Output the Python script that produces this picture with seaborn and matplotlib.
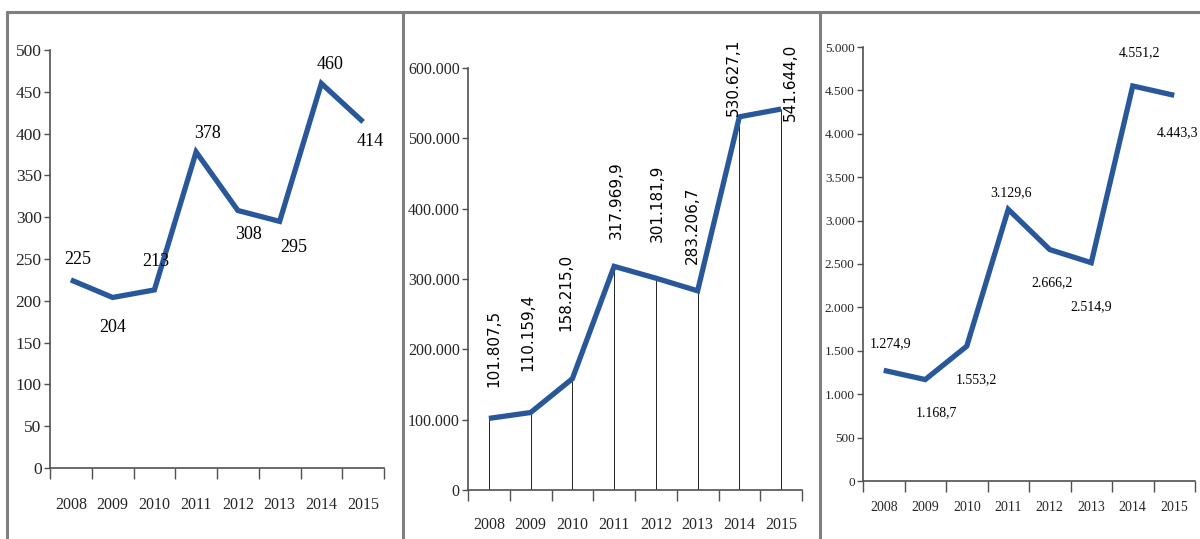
import matplotlib
matplotlib.use("Agg")
import matplotlib.pyplot as plt
from matplotlib.lines import Line2D
import seaborn as sns
import pandas as pd
import numpy as np

years = ["2008", "2009", "2010", "2011", "2012", "2013", "2014", "2015"]

p1_values = [225, 204, 213, 378, 308, 295, 460, 414]
p1_labels = ["225", "204", "213", "378", "308", "295", "460", "414"]
p1_ticks = [0, 50, 100, 150, 200, 250, 300, 350, 400, 450, 500]
p1_ticklabels = ["0", "50", "100", "150", "200", "250", "300", "350", "400", "450", "500"]

p2_values = [101807.5, 110159.4, 158215.0, 317969.9, 301181.9, 283206.7, 530627.1, 541644.0]
p2_labels = ["101.807,5", "110.159,4", "158.215,0", "317.969,9", "301.181,9",
             "283.206,7", "530.627,1", "541.644,0"]
p2_ticks = [0, 100000, 200000, 300000, 400000, 500000, 600000]
p2_ticklabels = ["0", "100.000", "200.000", "300.000", "400.000", "500.000", "600.000"]

p3_values = [1274.9, 1168.7, 1553.2, 3129.6, 2666.2, 2514.9, 4551.2, 4443.3]
p3_labels = ["1.274,9", "1.168,7", "1.553,2", "3.129,6", "2.666,2", "2.514,9", "4.551,2", "4.443,3"]
p3_ticks = [0, 500, 1000, 1500, 2000, 2500, 3000, 3500, 4000, 4500, 5000]
p3_ticklabels = ["0", "500", "1.000", "1.500", "2.000", "2.500", "3.000", "3.500",
                 "4.000", "4.500", "5.000"]

sns.set_theme(style="white")
SERIF = ["Liberation Serif", "DejaVu Serif"]
plt.rcParams["font.family"] = SERIF

W, H = 1200, 539
fig = plt.figure(figsize=(W / 100, H / 100), dpi=100)
fig.patch.set_facecolor("white")

LINE = "#28579a"
SPINE = "#505050"
PX = 0.72  # points per pixel


def make_axes(l, r, top, bottom):
    return fig.add_axes([l / W, (H - bottom) / H, (r - l) / W, (bottom - top) / H])


def style_axes(ax, ticks, ticklabels, ytick_size, year_size, year_dist, ymax):
    ax.set_xlim(-0.5, 7.5)
    ax.set_ylim(0, ymax)
    for s in ["top", "right"]:
        ax.spines[s].set_visible(False)
    for s in ["left", "bottom"]:
        ax.spines[s].set_color(SPINE)
        ax.spines[s].set_linewidth(1.2)
    ax.set_yticks(ticks)
    ax.set_yticklabels(ticklabels, fontsize=ytick_size)
    ax.tick_params(axis="y", which="major", left=True, length=4, width=1.0,
                   color=SPINE, pad=2)
    ax.set_xticks(np.arange(-0.5, 8.0, 1.0))
    ax.set_xticklabels([""] * 9)
    ax.tick_params(axis="x", which="major", bottom=True, length=8, width=1.0,
                   color=SPINE, direction="out")
    ax.set_xticks(np.arange(8), minor=True)
    ax.set_xticklabels(years, minor=True, fontsize=year_size)
    h = year_size / PX
    ax.tick_params(axis="x", which="minor", length=0, pad=(year_dist - h * 0.5) * PX)
    ax.set_xlabel("")
    ax.set_ylabel("")
    ax.grid(False)


def draw_line(ax, values):
    df = pd.DataFrame({"x": np.arange(len(values)), "y": values})
    sns.lineplot(data=df, x="x", y="y", ax=ax, color=LINE, linewidth=3.8,
                 sort=False, solid_joinstyle="miter", solid_capstyle="butt")


# ---------- Panel 1 ----------
ax1 = make_axes(50, 384, 50, 468)
draw_line(ax1, p1_values)
style_axes(ax1, p1_ticks, p1_ticklabels, 12.5, 11.5, 37, 500)
off1 = [(7, 20), (0, -30), (1, 28), (11, 18), (11, -24), (14, -26), (9, 19), (7, -20)]
for i, (v, lab) in enumerate(zip(p1_values, p1_labels)):
    ax1.annotate(lab, (i, v), xytext=(off1[i][0] * PX, off1[i][1] * PX),
                 textcoords="offset points", ha="center", va="center",
                 fontsize=13, color="black")

# ---------- Panel 2 ----------
ax2 = make_axes(468, 802, 68, 490)
ax2.vlines(np.arange(8), 0, p2_values, color="black", linewidth=0.6, zorder=1)
draw_line(ax2, p2_values)
style_axes(ax2, p2_ticks, p2_ticklabels, 11.5, 11.5, 35, 600000)
off2 = [(5, 70), (-3, 80), (-7, 86), (2, 66), (1, 75), (-5, 65), (-6, 39), (9, 27)]
for i, (v, lab) in enumerate(zip(p2_values, p2_labels)):
    ax2.annotate(lab, (i, v), xytext=(off2[i][0] * PX, off2[i][1] * PX),
                 textcoords="offset points", ha="center", va="center",
                 rotation=90, fontsize=11, color="black",
                 family=["DejaVu Sans"])

# ---------- Panel 3 ----------
ax3 = make_axes(863, 1195, 47, 481)
draw_line(ax3, p3_values)
style_axes(ax3, p3_ticks, p3_ticklabels, 9.5, 10, 27, 5000)
off3 = [(7, 27), (11, -33), (10, -34), (3, 17), (2, -33), (0, -44), (7, 33), (3, -37)]
for i, (v, lab) in enumerate(zip(p3_values, p3_labels)):
    ax3.annotate(lab, (i, v), xytext=(off3[i][0] * PX, off3[i][1] * PX),
                 textcoords="offset points", ha="center", va="center",
                 fontsize=10, color="black")

# ---------- Panel borders ----------
BORDER = "#7f7f7f"
def fline(xs, ys):
    fig.add_artist(Line2D([x / W for x in xs], [(H - y) / H for y in ys],
                          color=BORDER, linewidth=2.2, transform=fig.transFigure))

fline([7, 1200], [12, 12])
for xb in [7, 403, 820]:
    fline([xb, xb], [12, 539])

fig.savefig("out.png", dpi=100, facecolor="white")
